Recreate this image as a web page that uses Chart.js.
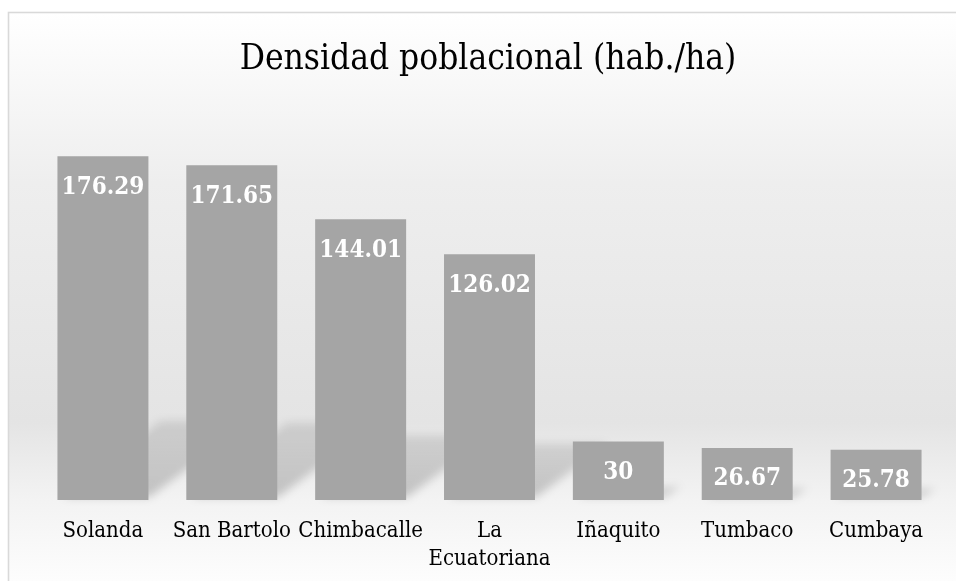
<!DOCTYPE html>
<html><head><meta charset="utf-8">
<script src="https://cdn.jsdelivr.net/npm/chart.js@4.4.1/dist/chart.umd.min.js"></script>
<style>html,body{margin:0;padding:0;background:#fff;overflow:hidden}#wrap{width:956px;height:581px;position:relative}</style>
</head><body><div id="wrap"><canvas id="c" width="956" height="581"></canvas></div>
<script>
const categories = [["Solanda"], ["San Bartolo"], ["Chimbacalle"], ["La", "Ecuatoriana"], ["Iñaquito"], ["Tumbaco"], ["Cumbaya"]];
const densidad = [176.29, 171.65, 144.01, 126.02, 30, 26.67, 25.78];
const valueLabels = ["176.29", "171.65", "144.01", "126.02", "30", "26.67", "25.78"];
const chartTitle = "Densidad poblacional (hab./ha)";
const yMin = 0;
const yMax = 200;

const SERIF = '"DejaVu Serif Condensed", "DejaVu Serif", serif';

const framePlugin = {
  id: 'frame',
  beforeDraw(chart) {
    const ctx = chart.ctx;
    ctx.save();
    ctx.fillStyle = '#ffffff';
    ctx.fillRect(0, 0, chart.width, chart.height);
    const g = ctx.createLinearGradient(0, 12, 0, 581);
    g.addColorStop(0, '#ffffff');
    g.addColorStop(0.3, '#eeeeee');
    g.addColorStop(0.72, '#e4e4e4');
    g.addColorStop(0.86, '#f3f3f3');
    g.addColorStop(1, '#fdfdfd');
    ctx.fillStyle = g;
    ctx.fillRect(8.5, 12.5, 1000, 700);
    ctx.strokeStyle = '#d9d9d9';
    ctx.lineWidth = 1.6;
    ctx.strokeRect(8.5, 12.5, 1000, 700);
    ctx.restore();
  },
  beforeDatasetsDraw(chart) {
    const ctx = chart.ctx;
    const meta = chart.getDatasetMeta(0);
    ctx.save();
    ctx.filter = 'blur(4px)';
    meta.data.forEach(bar => {
      const h = bar.base - bar.y;
      const sh = h * 0.23;
      const dx = sh * 1.3;
      const x1 = bar.x - bar.width / 2, x2 = bar.x + bar.width / 2;
      const g = ctx.createLinearGradient(0, bar.base, 0, bar.base - sh);
      g.addColorStop(0, 'rgba(0,0,0,0.2)');
      g.addColorStop(1, 'rgba(0,0,0,0.1)');
      ctx.fillStyle = g;
      ctx.beginPath();
      ctx.moveTo(x1 + 6, bar.base - 3);
      ctx.lineTo(x2 + 1, bar.base - 3);
      ctx.lineTo(x2 + dx, bar.base - sh);
      ctx.lineTo(x1 + dx, bar.base - sh);
      ctx.closePath();
      ctx.fill();
    });
    ctx.restore();
  },
  afterDatasetsDraw(chart) {
    const ctx = chart.ctx;
    const meta = chart.getDatasetMeta(0);
    ctx.save();
    ctx.fillStyle = '#ffffff';
    ctx.font = 'bold 24px ' + SERIF;
    ctx.textAlign = 'center';
    ctx.textBaseline = 'alphabetic';
    meta.data.forEach((bar, i) => {
      ctx.fillText(valueLabels[i], bar.x, bar.y + 37.5);
    });
    ctx.restore();
  },
  afterDraw(chart) {
    const ctx = chart.ctx;
    ctx.save();
    ctx.fillStyle = '#000000';
    ctx.font = '35px ' + SERIF;
    ctx.textAlign = 'center';
    ctx.textBaseline = 'alphabetic';
    ctx.fillText(chartTitle, 488, 69);
    ctx.restore();
  }
};

new Chart(document.getElementById('c'), {
  type: 'bar',
  data: {
    labels: categories,
    datasets: [{
      data: densidad,
      backgroundColor: '#a5a5a5',
      borderWidth: 0,
      barPercentage: 0.706,
      categoryPercentage: 1.0
    }]
  },
  options: {
    responsive: false,
    animation: false,
    devicePixelRatio: 1,
    layout: { padding: { left: 38.5, right: 15.5, top: 110, bottom: 0 } },
    plugins: { legend: { display: false }, tooltip: { enabled: false }, title: { display: false } },
    scales: {
      y: { display: false, min: yMin, max: yMax },
      x: {
        afterFit(s) { s.height = 81; },
        grid: { display: false, drawTicks: false },
        border: { display: false },
        ticks: {
          color: '#000000',
          padding: 17,
          maxRotation: 0,
          autoSkip: false,
          font: { family: SERIF, size: 22, lineHeight: 1.28 }
        }
      }
    }
  },
  plugins: [framePlugin]
});
</script>
</body></html>
